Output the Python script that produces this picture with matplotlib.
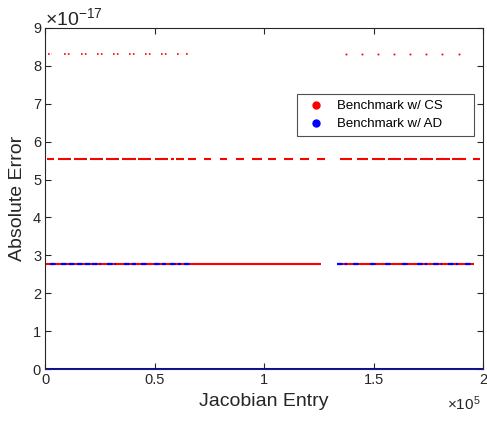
import matplotlib.pyplot as plt
from matplotlib.lines import Line2D

plt.rcParams['font.family'] = ['Liberation Sans', 'DejaVu Sans']
plt.rcParams['mathtext.fontset'] = 'custom'
plt.rcParams['mathtext.rm'] = 'Liberation Sans'
plt.rcParams['mathtext.it'] = 'Liberation Sans'

# error levels (absolute error)
lvl0 = 0.0
lvl1 = 2.7756e-17
lvl2 = 5.5511e-17
lvl3 = 8.3267e-17

# CS benchmark: clusters of entries at 8.33e-17 (start, end)
cs_top_start = [1200, 8500, 16200, 23500, 30900, 38200, 45500, 52800, 60100, 64200]
cs_top_end = [3100, 11300, 18900, 26200, 33700, 40900, 48300, 55600, 62000, 65600]
cs_top_single = [137200, 144500, 151800, 159200, 166500, 173800, 181100, 188900]

# CS benchmark: clusters at 5.55e-17
cs_mid_start = [600, 5800, 13100, 20400, 27900, 35200, 42500, 50000, 57300, 59700,
                65200, 72500, 79600, 87100, 94200, 101800, 109000, 116300, 123900,
                134500, 142200, 149300, 156600, 163800, 171100, 178700, 186000, 195400]
cs_mid_end = [4000, 11600, 19200, 26500, 33800, 41300, 48400, 56000, 58800, 63300,
              68700, 75500, 83100, 90700, 98800, 105300, 113000, 120500, 127700,
              139900, 147500, 155100, 162700, 169600, 177200, 184800, 192100, 198800]

# CS benchmark: runs at 2.78e-17
cs_low_start = [300, 133200]
cs_low_end = [125900, 195700]

# AD benchmark: clusters at 2.78e-17
ad_low_start = [2100, 7000, 14500, 21300, 28200, 35900, 43600, 49600, 56900, 63300,
                133200, 140500, 148300, 155100, 162800, 169700, 177000, 183900, 191600]
ad_low_end = [5300, 13900, 20700, 25300, 32100, 41300, 46600, 55000, 61800, 66400,
              137800, 143700, 151500, 158300, 165600, 174300, 181100, 188400, 194800]

# both benchmarks: exact entries (zero error)
zero_start = [0]
zero_end = [200000]

fig = plt.figure(figsize=(4.87, 4.21), dpi=100)
ax = fig.add_axes([0.093, 0.1235, 0.899, 0.81])

red = (1, 0, 0)
blue = (0, 0, 1)

ax.hlines([lvl3] * len(cs_top_start), cs_top_start, cs_top_end, colors=red,
          linewidth=1.2, linestyles=(0, (1, 1.3)))
ax.plot(cs_top_single, [lvl3] * len(cs_top_single), 's', color=red, ms=1.3, mew=0)
ax.hlines([lvl2] * len(cs_mid_start), cs_mid_start, cs_mid_end, colors=red, linewidth=1.5)
ax.hlines([lvl1] * len(cs_low_start), cs_low_start, cs_low_end, colors=red, linewidth=1.5)
ax.hlines([lvl0] * len(zero_start), zero_start, zero_end, colors=red, linewidth=2)
ax.hlines([lvl1] * len(ad_low_start), ad_low_start, ad_low_end, colors=blue,
          linewidth=1.6, linestyles=(0, (2.5, 1)))
ax.hlines([lvl0] * len(zero_start), zero_start, zero_end, colors=blue, linewidth=2.2)

ax.set_xlim(0, 200000)
ax.set_ylim(0, 9e-17)
xt = [0, 50000, 100000, 150000, 200000]
ax.set_xticks(xt)
ax.set_xticklabels(['0', '0.5', '1', '1.5', '2'])
yt = [i * 1e-17 for i in range(10)]
ax.set_yticks(yt)
ax.set_yticklabels([str(i) for i in range(10)])

grey = (0.15, 0.15, 0.15)
for s in ax.spines.values():
    s.set_color(grey)
    s.set_linewidth(0.8)
ax.tick_params(direction='in', length=4, width=0.8, colors=grey, labelsize=10.5,
               top=True, right=True, pad=3)

ax.set_xlabel('Jacobian Entry', fontsize=14, color=grey, labelpad=4)
ax.set_ylabel('Absolute Error', fontsize=14, color=grey, labelpad=5)

fig.text(0.093, 0.94, r'$\times 10^{-17}$', fontsize=14, color=grey, va='baseline')
fig.text(0.917, 0.025, r'$\times 10^{5}$', fontsize=11, color=grey, va='baseline')

handles = [Line2D([], [], marker='o', ls='none', color=red, ms=5),
           Line2D([], [], marker='o', ls='none', color=blue, ms=5)]
leg = ax.legend(handles, ['Benchmark w/ CS       ', 'Benchmark w/ AD       '],
                loc='upper left', bbox_to_anchor=(0.575, 0.806), fontsize=9.5,
                frameon=True, fancybox=False, borderpad=0.45, handletextpad=0.6,
                labelspacing=0.45, handlelength=2.0, borderaxespad=0)
leg.get_frame().set_edgecolor(grey)
leg.get_frame().set_linewidth(0.8)

fig.savefig('out.png', dpi=100)
